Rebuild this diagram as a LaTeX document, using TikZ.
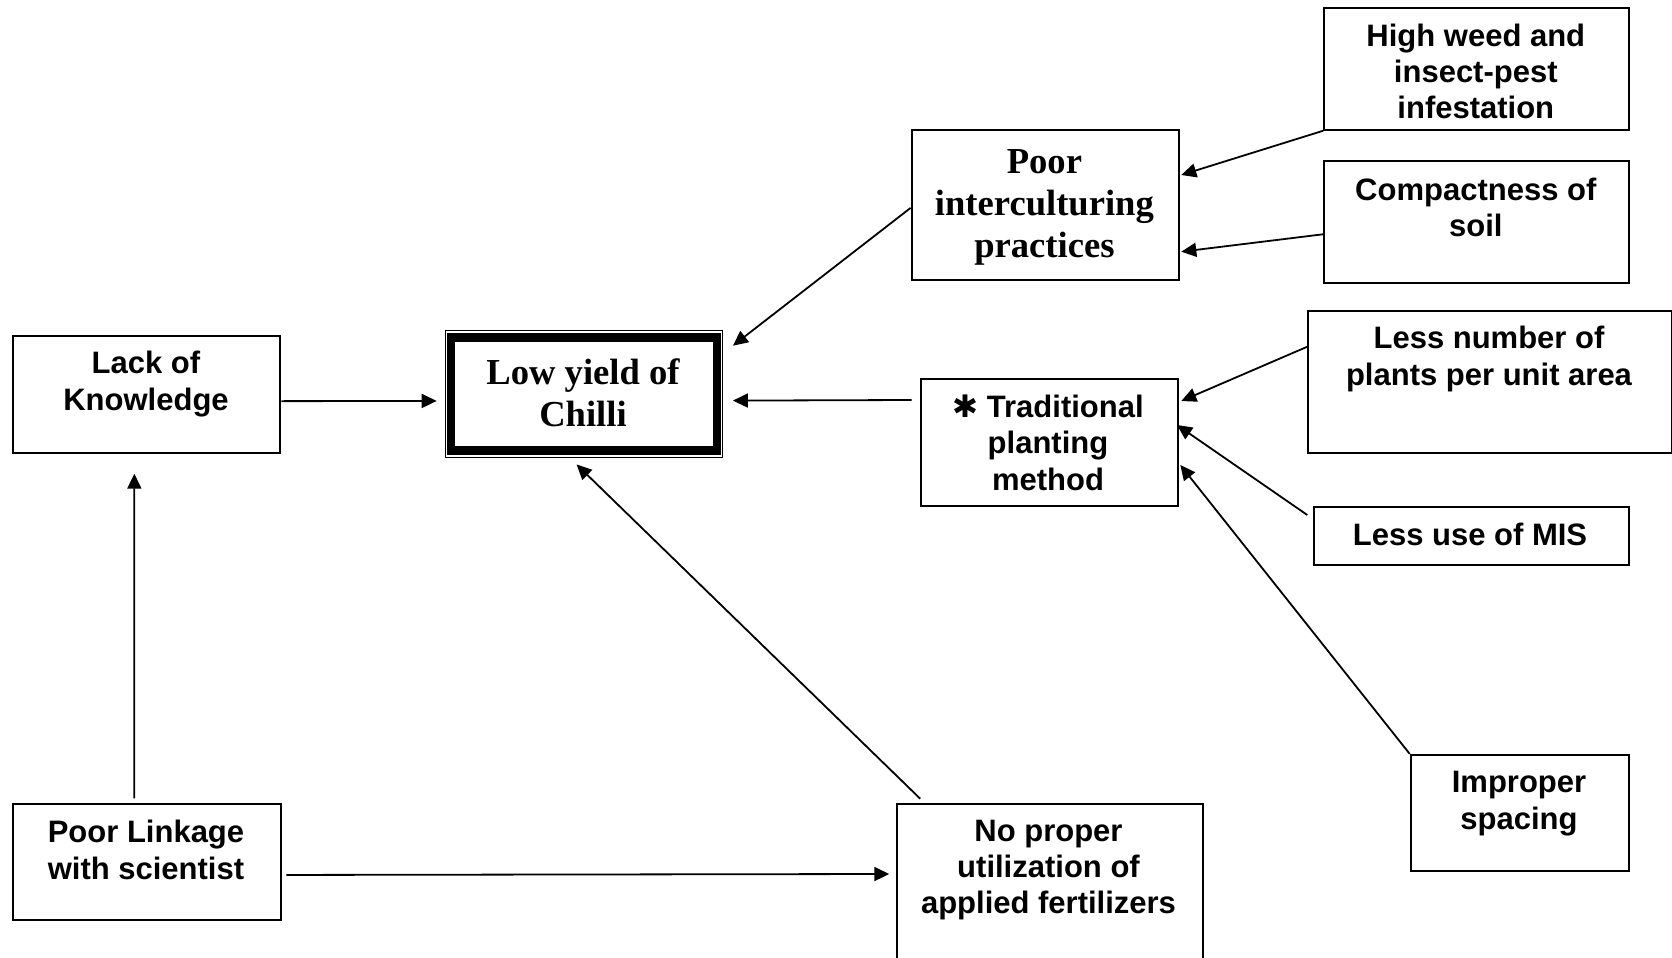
\documentclass[tikz,border=0pt]{standalone}
\usepackage{fontspec}
\setmainfont{Liberation Sans}
\newfontfamily\serifbf{Liberation Serif}
\newfontfamily\symfont{DejaVu Sans}
\usetikzlibrary{arrows.meta,calc}

\begin{document}
\begin{tikzpicture}[x=0.5pt,y=-0.5pt,
  box/.style={draw, line width=1pt, inner sep=0pt, anchor=north west},
  lbl/.style={font=\bfseries\fontsize{15.5}{18.2}\selectfont, align=center, inner sep=0pt},
  ser/.style={font=\serifbf\bfseries\fontsize{18.3}{20.9}\selectfont, align=center, inner sep=0pt},
  arr/.style={-{Triangle[length=7.5pt,width=7pt]}, line width=0.9pt}]

\useasboundingbox (0,0) rectangle (1672,958);
\clip (0,0) rectangle (1672,958);
\fill[white] (0,0) rectangle (1672,958);

% frames
\node[box, minimum width=133.85pt, minimum height=58.35pt] (lack) at (11.7,334.8) {};
\node[box, line width=0.6pt, minimum width=138.6pt, minimum height=63.35pt] (low) at (444.5,330) {};
\draw[line width=4.15pt] ($(low.north west)+(6.3,7.5)$) rectangle ($(low.south east)+(-6.2,-7.5)$);
\node[box, minimum width=133.8pt, minimum height=75.2pt] (poor) at (910.6,129) {};
\node[box, minimum width=152.5pt, minimum height=60.7pt] (weed) at (1323.3,7.3) {};
\node[box, minimum width=152.5pt, minimum height=60.75pt] (compact) at (1323.3,160) {};
\node[box, minimum width=181.7pt, minimum height=70.85pt] (less) at (1307.3,310) {};
\node[box, minimum width=128.65pt, minimum height=63.75pt] (trad) at (920,377.5) {};
\node[box, minimum width=157.8pt, minimum height=29.15pt] (mis) at (1312.7,505.7) {};
\node[box, minimum width=109.3pt, minimum height=58.1pt] (improper) at (1409.7,753.9) {};
\node[box, minimum width=134.15pt, minimum height=57.95pt] (linkage) at (11.7,803.3) {};
\node[box, minimum width=152.7pt, minimum height=85pt] (noprop) at (896.3,803.3) {};

% labels
\node[lbl] (tlack) at (146,384) {Lack of\\Knowledge};
\node[ser] (tlow) at (583,393) {Low yield of\\Chilli};
\node[ser] (tpoor) at (1044.4,207.5) {Poor\\interculturing\\practices};
\node[lbl] (tweed) at (1475.8,71.4) {High weed and\\insect-pest\\infestation};
\node[lbl] (tcompact) at (1475.8,207.5) {Compactness of\\soil};
\node[lbl] (tless) at (1489,359) {Less number of\\plants per unit area};
\node[lbl] (ttrad) at (1048,442.5) {{\symfont ✱} Traditional\\planting\\method};
\node[lbl] (tmis) at (1470,534.5) {Less use of MIS};
\node[lbl] (timproper) at (1519,803.5) {Improper\\spacing};
\node[lbl] (tlinkage) at (146,850) {Poor Linkage\\with scientist};
\node[lbl] (tnoprop) at (1048.5,870) {No proper\\utilization of\\applied fertilizers};

% connectors
\draw[arr] ($(lack.east)+(0,7)$) -- ($(low.west)+(-7.8,7)$);
\draw[arr] ($(linkage.north)+(-12.7,-5)$) -- ($(lack.south)+(-12.2,20.2)$);
\draw[arr] ($(linkage.east)+(4.3,12.7)$) -- ($(noprop.north west)+(-7,70.7)$);
\draw[arr] ($(noprop.north west)+(23.9,-4.6)$) -- ($(low.south)+(-7.1,6.6)$);
\draw[arr] ($(poor.west)+(0,2.7)$) -- ($(low.north east)+(10,15.7)$);
\draw[arr] ($(trad.north west)+(-8.3,22.5)$) -- ($(low.east)+(10,6.65)$);
\draw[arr] (weed.south west) -- ($(poor.north east)+(1.1,46)$);
\draw[arr] ($(compact.west)+(0,12.5)$) -- ($(poor.north east)+(1.1,122.7)$);
\draw[arr] ($(less.north west)+(0,36.7)$) -- ($(trad.north east)+(2,23.5)$);
\draw[arr] ($(mis.north west)+(-5.4,9.3)$) -- ($(trad.north east)+(-2.3,47.5)$);
\draw[arr] (improper.north west) -- ($(trad.north east)+(1,87.5)$);
\end{tikzpicture}
\end{document}
